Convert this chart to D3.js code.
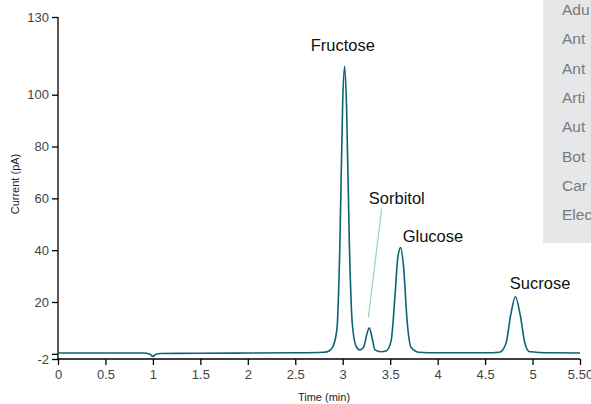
<!DOCTYPE html>
<html>
<head>
<meta charset="UTF-8">
<script src="https://cdn.jsdelivr.net/npm/d3@7"></script>
<style>
  body { margin: 0; background: #fff; }
  svg text { font-family: "Liberation Sans", Arial, sans-serif; }
</style>
</head>
<body>
<script>
// trace (time in min, current in pA)
var times  = [0, 0.5, 0.9, 0.97, 1.0, 1.03, 1.08, 1.5, 2.0, 2.5, 2.8, 2.86, 2.9, 2.94, 2.97, 3.0, 3.02, 3.04, 3.07, 3.1, 3.14, 3.18,
              3.22, 3.25, 3.28, 3.31, 3.34, 3.4, 3.46, 3.51, 3.55, 3.58, 3.61, 3.64, 3.68, 3.72, 3.8, 4.0, 4.5, 4.65, 4.72, 4.77,
              4.82, 4.87, 4.92, 4.97, 5.2, 5.5];
var current = [0.3, 0.3, 0.3, -0.2, -1.0, -0.2, 0.1, 0.2, 0.3, 0.4, 0.6, 1.2, 3, 10, 42, 98, 111, 96, 42, 12, 3, 1.5,
              2.5, 7, 10, 6, 1.5, 0.8, 1.2, 5, 22, 37, 41, 34, 12, 2.5, 0.6, 0.4, 0.4, 0.6, 4, 15, 22, 15, 4, 0.8, 0.4, 0.3];
var peakNames = ["Fructose", "Sorbitol", "Glucose", "Sucrose"];
var peakLabelX = [3.0, 3.57, 3.95, 5.08];
var peakLabelY = [117, 58, 43, 25];
var xTicks = [0, 0.5, 1, 1.5, 2, 2.5, 3, 3.5, 4, 4.5, 5, 5.5];
var xTickLabels = ["0", "0.5", "1", "1.5", "2", "2.5", "3", "3.5", "4", "4.5", "5", "5.50"];
var yTicks = [-2, 0, 20, 40, 60, 80, 100, 130];
var menuItems = ["Adu", "Ant", "Ant", "Arti", "Aut", "Bot", "Car", "Elec"];

var W = 591, H = 404;
var svg = d3.select("body").append("svg").attr("width", W).attr("height", H);

var x = d3.scaleLinear().domain([0, 5.5]).range([58, 580]);
var y = d3.scaleLinear().domain([-2, 130]).range([359, 17]);

// grey side panel
svg.append("rect").attr("x", 543).attr("y", 0).attr("width", 60).attr("height", 243).attr("fill", "#e6e7e8");
svg.selectAll("text.menu").data(menuItems).enter().append("text")
    .attr("class", "menu")
    .attr("x", 562).attr("y", function (d, i) { return 15 + i * 29.3; })
    .attr("font-size", 15.5).attr("fill", "#7a7a7a")
    .text(function (d) { return d; });

// axes
var xAxis = svg.append("g").attr("transform", "translate(0,359)")
    .call(d3.axisBottom(x).tickValues(xTicks).tickSize(6).tickPadding(5)
        .tickFormat(function (d, i) { return xTickLabels[i]; }));
var yAxis = svg.append("g").attr("transform", "translate(58,0)")
    .call(d3.axisLeft(y).tickValues(yTicks).tickSize(6).tickPadding(3)
        .tickFormat(function (d) { return d === 0 ? "" : d; }));
[xAxis, yAxis].forEach(function (a) {
    a.select(".domain").attr("stroke", "#000").attr("stroke-width", 1.3);
    a.selectAll(".tick line").attr("stroke", "#000").attr("stroke-width", 1.3);
    a.selectAll(".tick text").attr("font-size", 13).attr("fill", "#444")
        .style("font-family", "'Liberation Sans', Arial, sans-serif");
});
xAxis.select(".domain").attr("d", "M58,0H580");
yAxis.select(".domain").attr("d", "M0,17V359");

svg.append("text").attr("x", 324).attr("y", 401).attr("text-anchor", "middle")
    .attr("font-size", 11).attr("fill", "#222").text("Time (min)");
svg.append("text").attr("transform", "translate(19,184) rotate(-90)").attr("text-anchor", "middle")
    .attr("font-size", 11).attr("fill", "#222").text("Current (pA)");

// trace
var pts = times.map(function (t, i) { return [t, current[i]]; });
var line = d3.line().x(function (d) { return x(d[0]); }).y(function (d) { return y(d[1]); })
    .curve(d3.curveMonotoneX);
svg.append("path").datum(pts).attr("d", line)
    .attr("fill", "none").attr("stroke", "#0e6273").attr("stroke-width", 1.6);

// sorbitol leader line
svg.append("line").attr("x1", x(3.41)).attr("y1", y(56)).attr("x2", x(3.27)).attr("y2", y(14))
    .attr("stroke", "#9cc9d3").attr("stroke-width", 1.2);

svg.selectAll("text.peak").data(peakNames).enter().append("text")
    .attr("class", "peak")
    .attr("x", function (d, i) { return x(peakLabelX[i]); })
    .attr("y", function (d, i) { return y(peakLabelY[i]); })
    .attr("text-anchor", "middle").attr("font-size", 16.5).attr("fill", "#111")
    .text(function (d) { return d; });
</script>
</body>
</html>
